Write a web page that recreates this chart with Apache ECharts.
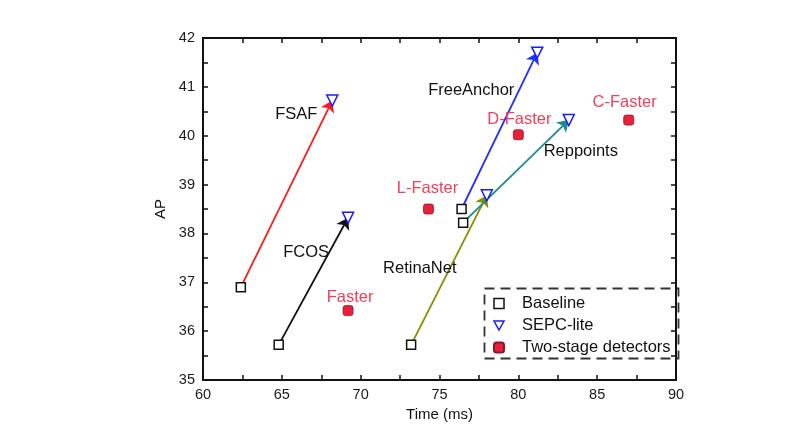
<!DOCTYPE html>
<html><head><meta charset="utf-8">
<script src="https://cdn.jsdelivr.net/npm/echarts@6/dist/echarts.min.js"></script>
<style>html,body{margin:0;padding:0;background:#fff}#c{width:802px;height:441px}</style>
</head><body><div id="c"></div>
<script>
const detectors = ['FSAF','FCOS','RetinaNet','FreeAnchor','Reppoints'];
const baselineTime = [62.4, 64.8, 73.2, 76.4, 76.5];
const baselineAP   = [36.9, 35.72, 35.72, 38.5, 38.22];
const sepcTime = [68.2, 69.2, 78.0, 81.2, 83.2];
const sepcAP   = [40.72, 38.32, 38.78, 41.7, 40.32];
const twoStageNames = ['Faster','L-Faster','D-Faster','C-Faster'];
const twoStageTime = [69.2, 74.3, 80.0, 87.0];
const twoStageAP   = [36.42, 38.5, 40.02, 40.32];

// styling (not data)
const arrowColors = {FSAF:'#ff1a1a', FCOS:'#111111', RetinaNet:'#8c8c00', FreeAnchor:'#2030ff', Reppoints:'#1a8c8c'};
const detLabelOffset = {FSAF:[-36,14], FCOS:[-42,35], RetinaNet:[-67,73], FreeAnchor:[-66,38], Reppoints:[12,31]};
const tsLabelOffset = {'Faster':[2,-13], 'L-Faster':[-1,-21], 'D-Faster':[1,-15], 'C-Faster':[-4,-18]};

const font = 'Liberation Sans, Arial, sans-serif';
const chart = echarts.init(document.getElementById('c'));

const axisCommon = {
  axisLine:{show:true, onZero:false, lineStyle:{color:'#111', width:2}},
  axisTick:{show:true, inside:true, length:5, lineStyle:{color:'#111', width:1.5}},
  minorTick:{show:true, splitNumber:2, length:5, lineStyle:{color:'#111', width:1.5}},
  splitLine:{show:false}
};
const triDown = 'path://M0,0 L10,0 L5,9 Z';

chart.setOption({
  animation:false,
  backgroundColor:'#fff',
  grid:{left:203, right:126, top:38, bottom:61},
  xAxis:[
    Object.assign({type:'value', min:60, max:90, interval:5, position:'bottom',
      name:'Time (ms)', nameLocation:'middle', nameGap:26,
      nameTextStyle:{fontFamily:font, fontSize:15, color:'#111'},
      axisLabel:{fontFamily:font, fontSize:14.5, color:'#1a1a1a', margin:7}}, axisCommon),
    Object.assign({type:'value', min:60, max:90, interval:5, position:'top',
      axisLabel:{show:false}}, axisCommon)
  ],
  yAxis:[
    Object.assign({type:'value', min:35, max:42, interval:1, position:'left',
      name:'AP', nameLocation:'middle', nameGap:33, nameRotate:90,
      nameTextStyle:{fontFamily:font, fontSize:15, color:'#111'},
      axisLabel:{fontFamily:font, fontSize:14.5, color:'#1a1a1a', margin:8}}, axisCommon),
    Object.assign({type:'value', min:35, max:42, interval:1, position:'right',
      axisLabel:{show:false}}, axisCommon)
  ],
  legend:{
    orient:'vertical', left:488, top:290, itemGap:5, itemWidth:10, itemHeight:10,
    textStyle:{fontFamily:font, fontSize:16.5, color:'#111', lineHeight:16, padding:[0,0,0,13]},
    data:[
      {name:'Baseline', icon:'rect', itemStyle:{color:'#fff', borderColor:'#111', borderWidth:1.5}},
      {name:'SEPC-lite', icon:triDown, itemStyle:{color:'#fff', borderColor:'#1a1aff', borderWidth:1.5}},
      {name:'Two-stage detectors', icon:'roundRect'}
    ]
  },
  graphic:[{type:'rect', left:482, top:286, shape:{width:194, height:70},
    style:{fill:'none', stroke:'#333', lineWidth:1.8, lineDash:[10,6]}, z:10}],
  series:[
    {
      type:'lines', coordinateSystem:'cartesian2d', xAxisIndex:0, yAxisIndex:0,
      symbol:['none','arrow'], symbolSize:11, z:2,
      data: detectors.map((d,i)=>({
        coords:[[baselineTime[i], baselineAP[i]],[sepcTime[i], sepcAP[i]]],
        lineStyle:{color:arrowColors[d], width:1.8, opacity:1}
      }))
    },
    {
      name:'Baseline', type:'scatter', symbol:'rect', symbolSize:9, z:5,
      itemStyle:{color:'#fff', borderColor:'#111', borderWidth:1.5, opacity:1},
      data: detectors.map((d,i)=>[baselineTime[i], baselineAP[i]])
    },
    {
      name:'SEPC-lite', type:'scatter', symbol:'triangle', symbolRotate:180, symbolSize:11, z:5,
      itemStyle:{color:'#fff', borderColor:'#1a1aff', borderWidth:1.5, opacity:1},
      data: detectors.map((d,i)=>({value:[sepcTime[i], sepcAP[i]], name:d,
        label:{show:true, position:'inside', formatter:d, offset:detLabelOffset[d],
          fontFamily:font, fontSize:16.5, color:'#111'}}))
    },
    {
      name:'Two-stage detectors', type:'scatter', symbol:'roundRect', symbolSize:10, z:5,
      itemStyle:{color:'#e8203a', borderColor:'#8a1828', borderWidth:0.8, opacity:1},
      data: twoStageNames.map((d,i)=>({value:[twoStageTime[i], twoStageAP[i]], name:d,
        label:{show:true, position:'inside', formatter:d, offset:tsLabelOffset[d],
          fontFamily:font, fontSize:16.5, color:'#f0405a'}}))
    }
  ]
});
</script></body></html>
